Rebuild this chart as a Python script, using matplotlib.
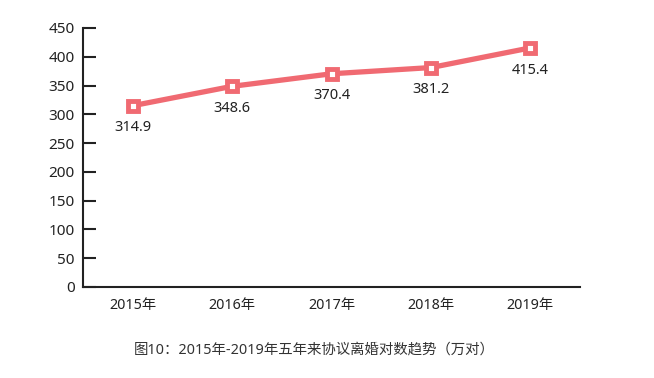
import matplotlib
matplotlib.use("Agg")
import matplotlib.pyplot as plt

plt.rcParams['font.family'] = ['Noto Sans', 'Noto Sans CJK SC', 'DejaVu Sans']

years = ["2015年", "2016年", "2017年", "2018年", "2019年"]
values = [314.9, 348.6, 370.4, 381.2, 415.4]
yticks = [0, 50, 100, 150, 200, 250, 300, 350, 400, 450]
title = "图10：2015年-2019年五年来协议离婚对数趋势（万对）"

color = "#F06A72"
fig = plt.figure(figsize=(6.54, 3.78), dpi=100)
ax = fig.add_axes([0.127, 0.241, 0.76, 0.685])
x = list(range(len(years)))
ax.plot(x, values, color=color, lw=3.8, marker='s', markersize=7.4,
        markerfacecolor='white', markeredgecolor=color, markeredgewidth=3.5,
        solid_capstyle='butt', zorder=3)
for xi, v in zip(x, values):
    ax.annotate(f"{v:.1f}", (xi, v), xytext=(0, -16), textcoords='offset points',
                ha='center', va='center', fontsize=10.5, color='#222222')
ax.set_xlim(-0.5, 4.5)
ax.set_ylim(0, 450)
ax.set_yticks(yticks)
ax.set_xticks(x)
ax.set_xticklabels(years)
for s in ['top', 'right']:
    ax.spines[s].set_visible(False)
for s in ['left', 'bottom']:
    ax.spines[s].set_color('#222222')
    ax.spines[s].set_linewidth(1.5)
ax.tick_params(axis='y', direction='in', length=9, width=1.5, color='#222222',
               labelsize=11, labelcolor='#222222', pad=6)
ax.tick_params(axis='x', length=0, labelsize=10.3, labelcolor='#222222', pad=8)
fig.text(0.481, 0.073, title, ha='center', va='center', fontsize=10.4, color='#333333')
fig.savefig("out.png", dpi=100)
